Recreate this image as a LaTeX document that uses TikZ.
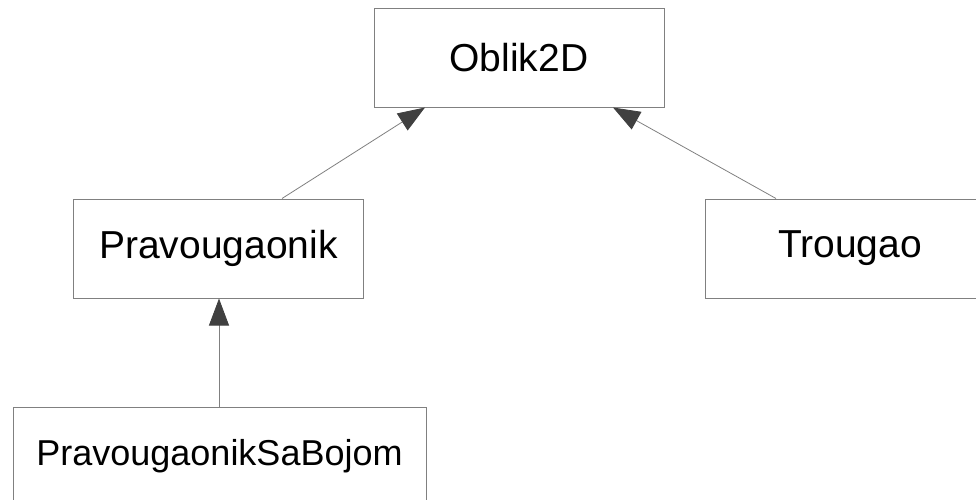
\documentclass[tikz,border=0pt]{standalone}
\usepackage{fontspec}
\setmainfont{Liberation Sans}
\usetikzlibrary{arrows.meta}
\definecolor{edgegray}{RGB}{128,128,128}
\definecolor{headgray}{RGB}{64,64,64}
\tikzset{
  classbox/.style={draw=edgegray, line width=1pt, fill=white, rectangle,
    minimum width=290pt, minimum height=99pt, inner sep=0pt,
    font=\fontsize{39}{45}\selectfont},
  inherits/.style={draw=edgegray, line width=0.8pt,
    -{Triangle[length=27pt, width=20pt, fill=headgray, color=headgray]}}
}
\begin{document}
\begin{tikzpicture}[x=1pt, y=-1pt]
  \useasboundingbox (0,0) rectangle (976,499);
  % class boxes
  \node[classbox] (oblik) at (519,57.5) {Oblik2D};
  \node[classbox] (prav) at (218.5,248.5) {Pravougaonik};
  \node[classbox] (trougao) at (850,248.5) {Trougao};
  \node[classbox, minimum width=413pt, font=\fontsize{36}{42}\selectfont] (pravboja) at (219.5,456.5) {PravougaonikSaBojom};
  % generalisation arrows
  \draw[inherits] ([xshift=63.5pt]prav.north) -- ([xshift=-94pt]oblik.south);
  \draw[inherits] ([xshift=-74pt]trougao.north) -- ([xshift=94pt]oblik.south);
  \draw[inherits] ([xshift=-0.5pt]pravboja.north) -- ([xshift=-0.5pt]pravboja.north |- prav.south);
\end{tikzpicture}
\end{document}
